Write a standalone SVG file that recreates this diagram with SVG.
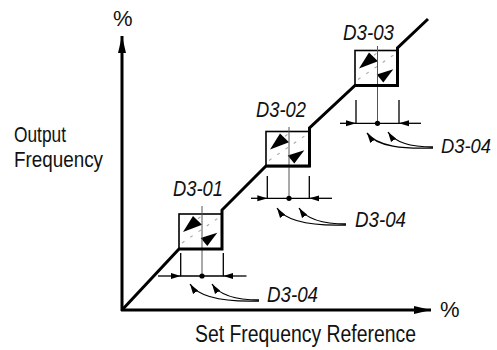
<svg xmlns="http://www.w3.org/2000/svg" width="497" height="350" viewBox="0 0 497 350">
<style>
.lbl{font-family:"Liberation Sans Narrow","Liberation Sans",Arial,sans-serif;font-size:22px;fill:#111}
.it{font-style:italic}
.thick{fill:none;stroke:#000;stroke-width:3;stroke-linejoin:miter}
.thin{fill:none;stroke:#000;stroke-width:1.3}
.box{fill:#fff;stroke:#000;stroke-width:1.6}
.dash{fill:none;stroke:#aaa;stroke-width:1.1;stroke-dasharray:3 7}
.tri{fill:#000}
.cl{fill:none;stroke:#555;stroke-width:1}
</style>
<defs>
<marker id="ah" viewBox="0 0 10 6" refX="10" refY="3" markerWidth="10" markerHeight="7" markerUnits="userSpaceOnUse" orient="auto"><path d="M0,0 L10,3 L0,6 z" fill="#000"/></marker>
<marker id="big" viewBox="0 0 17 8" refX="17" refY="4" markerWidth="17" markerHeight="8" markerUnits="userSpaceOnUse" orient="auto"><path d="M0,0 L17,4 L0,8 z" fill="#000"/></marker>
<g id="boxshape">
<rect class="box" x="0" y="0" width="43" height="35"/>
<line class="dash" x1="3" y1="29" x2="40" y2="3.5"/>
<line class="dash" x1="19" y1="4.7" x2="22" y2="2.5"/>
<polygon class="tri" points="4,18 14,2 23,10.7"/>
<polygon class="tri" points="21.7,24 38.3,18.7 28.3,32"/>
</g>
</defs>

<g id="axes">
<line class="thick" x1="122" y1="311" x2="122" y2="36" marker-end="url(#big)"/>
<line class="thick" x1="121" y1="310" x2="431" y2="310" marker-end="url(#big)"/>
<text class="lbl" x="113" y="26">%</text>
<text class="lbl" x="440" y="317">%</text>
<text class="lbl" x="14" y="142" textLength="52" lengthAdjust="spacingAndGlyphs">Output</text>
<text class="lbl" x="14" y="167" textLength="89" lengthAdjust="spacingAndGlyphs">Frequency</text>
<text class="lbl" x="195" y="342" style="font-size:23px" textLength="221" lengthAdjust="spacingAndGlyphs">Set Frequency Reference</text>
</g>

<g id="box1">
<use href="#boxshape" x="179" y="214"/>
<line class="cl" x1="202" y1="206" x2="202" y2="276"/>
<text class="lbl it" x="173" y="196" textLength="50" lengthAdjust="spacingAndGlyphs">D3-01</text>
</g>
<g id="box2">
<use href="#boxshape" x="266" y="131.5"/>
<line class="cl" x1="289" y1="127" x2="289" y2="198"/>
<text class="lbl it" x="256" y="117" textLength="50" lengthAdjust="spacingAndGlyphs">D3-02</text>
</g>
<g id="box3">
<use href="#boxshape" x="355" y="50.5"/>
<line class="cl" x1="377.5" y1="46" x2="377.5" y2="123"/>
<text class="lbl it" x="343" y="40" textLength="51" lengthAdjust="spacingAndGlyphs">D3-03</text>
</g>

<g id="labels-d304">
<text class="lbl it" x="267" y="302" textLength="51" lengthAdjust="spacingAndGlyphs">D3-04</text>
<text class="lbl it" x="355" y="227" textLength="51" lengthAdjust="spacingAndGlyphs">D3-04</text>
<text class="lbl it" x="441" y="153" style="font-size:20px" textLength="50" lengthAdjust="spacingAndGlyphs">D3-04</text>
</g>

<g id="connectors">
<path class="thick" d="M122,310 L179,249 L222,249 L222,210 L266,166 L309.5,166 L309.5,128 L355,85.5 L397.5,85.5 L397.5,48 L428,19"/>
<path class="thin" d="M180.7,253 V276 H223.3 V253"/>
<line class="thin" x1="158" y1="276" x2="180.7" y2="276" marker-end="url(#ah)"/>
<line class="thin" x1="246.5" y1="276" x2="223.3" y2="276" marker-end="url(#ah)"/>
<circle cx="202" cy="276" r="2.6" fill="#000"/>
<path class="thin" d="M259,301 C228,302 200,299 190,284" marker-end="url(#ah)"/>
<path class="thin" d="M259,300 C238,300 220,296 212,284" marker-end="url(#ah)"/>
<path class="thin" d="M267.3,176 V198.3 H309.3 V176"/>
<line class="thin" x1="251" y1="198.3" x2="267.3" y2="198.3" marker-end="url(#ah)"/>
<line class="thin" x1="332" y1="198.3" x2="309.3" y2="198.3" marker-end="url(#ah)"/>
<circle cx="289" cy="198.3" r="2.6" fill="#000"/>
<path class="thin" d="M346,225 C315,226 287,223 277,208" marker-end="url(#ah)"/>
<path class="thin" d="M346,224 C325,224 307,220 299,208" marker-end="url(#ah)"/>
<path class="thin" d="M356,100 V123.3 H399 V100"/>
<line class="thin" x1="340" y1="123.3" x2="356" y2="123.3" marker-end="url(#ah)"/>
<line class="thin" x1="421" y1="123.3" x2="399" y2="123.3" marker-end="url(#ah)"/>
<circle cx="377.5" cy="123.3" r="2.6" fill="#000"/>
<path class="thin" d="M433,148 C404,149 377,147 367,133" marker-end="url(#ah)"/>
<path class="thin" d="M433,147 C414,147 396,144 388,132" marker-end="url(#ah)"/>
</g>
</svg>
